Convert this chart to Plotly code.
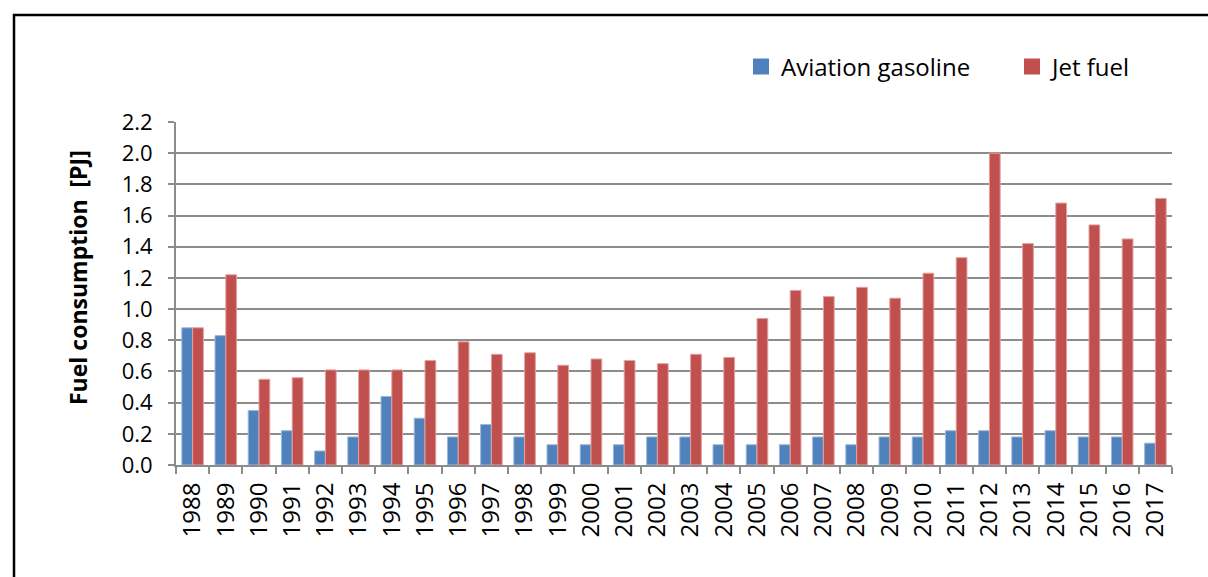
import plotly.graph_objects as go

years = [str(y) for y in range(1988, 2018)]
aviation_gasoline = [0.88, 0.83, 0.35, 0.22, 0.09, 0.18, 0.44, 0.30, 0.18, 0.26,
                     0.18, 0.13, 0.13, 0.13, 0.18, 0.18, 0.13, 0.13, 0.13, 0.18,
                     0.13, 0.18, 0.18, 0.22, 0.22, 0.18, 0.22, 0.18, 0.18, 0.14]
jet_fuel = [0.88, 1.22, 0.55, 0.56, 0.61, 0.61, 0.61, 0.67, 0.79, 0.71,
            0.72, 0.64, 0.68, 0.67, 0.65, 0.71, 0.69, 0.94, 1.12, 1.08,
            1.14, 1.07, 1.23, 1.33, 2.00, 1.42, 1.68, 1.54, 1.45, 1.71]
y_ticks = [0.0, 0.2, 0.4, 0.6, 0.8, 1.0, 1.2, 1.4, 1.6, 1.8, 2.0, 2.2]

series = [
    ("Aviation gasoline", aviation_gasoline, "#4F81BD", "#9DB9DC"),
    ("Jet fuel", jet_fuel, "#C0504D", "#E3A2A0"),
]

W, H = 1208, 577
L, R, T, B = 176, 36, 122, 112
pw, ph = W - L - R, H - T - B

def px_x(x):
    return (x - L) / pw

def px_y(y):
    return (H - B - y) / ph

FONT = "Open Sans"
grid = "#8c8c8c"

fig = go.Figure()
for name, values, color, edge in series:
    fig.add_trace(go.Bar(
        name=name, x=years, y=values, showlegend=False,
        marker=dict(color=color, line=dict(color=edge, width=1)),
    ))
# legend entries with larger square swatches
for name, values, color, edge in series:
    fig.add_trace(go.Scatter(
        name=name, x=[None], y=[None], mode="markers",
        marker=dict(symbol="square", size=16, color=color, line=dict(width=0)),
    ))

fig.update_layout(
    width=W, height=H,
    margin=dict(l=L, r=R, t=T, b=B, autoexpand=False),
    plot_bgcolor="white", paper_bgcolor="white",
    barmode="group", bargap=0.35, bargroupgap=0.0,
    font=dict(family=FONT, size=22, color="black"),
    showlegend=True,
    legend=dict(
        orientation="h", x=px_x(741), y=px_y(67), xanchor="left", yanchor="middle",
        font=dict(family=FONT, size=24, color="black"),
        entrywidth=226, entrywidthmode="pixels",
        bgcolor="rgba(0,0,0,0)", traceorder="normal",
    ),
    xaxis=dict(
        type="category", tickson="boundaries", ticks="outside", ticklen=7,
        tickwidth=2, tickcolor=grid, showline=True, linecolor=grid, linewidth=2,
        tickangle=-90, tickfont=dict(family=FONT, size=24, color="black"),
        ticklabelstandoff=6,
        showgrid=False, zeroline=False,
    ),
    yaxis=dict(
        range=[0, 2.2], tickvals=y_ticks, ticktext=[f"{v:.1f}" for v in y_ticks],
        ticks="outside", ticklen=6, tickwidth=2, tickcolor=grid,
        showline=True, linecolor=grid, linewidth=2,
        showgrid=True, gridcolor=grid, gridwidth=1.5, zeroline=False,
        tickfont=dict(family=FONT, size=22, color="black"),
        ticklabelstandoff=11,
    ),
    annotations=[dict(
        text="<b>Fuel consumption  [PJ]</b>", textangle=-90,
        xref="paper", yref="paper", x=px_x(78), y=px_y(278),
        xanchor="center", yanchor="middle", showarrow=False,
        font=dict(family=FONT, size=23, color="black"),
    )],
    shapes=[dict(
        type="rect", xref="paper", yref="paper",
        x0=px_x(14), x1=px_x(1230), y0=px_y(600), y1=px_y(15),
        line=dict(color="black", width=2.5), fillcolor="rgba(0,0,0,0)", layer="above",
    )],
)

fig.write_html("out.html")
